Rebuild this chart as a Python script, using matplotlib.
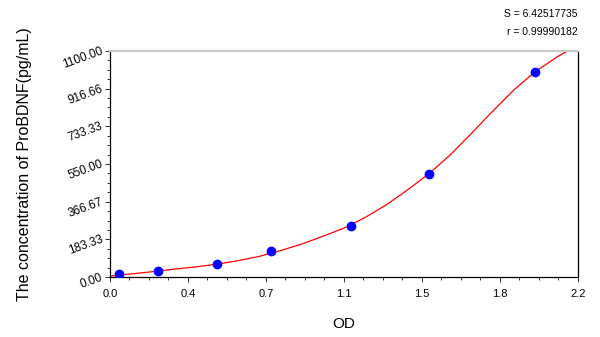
import matplotlib
matplotlib.use("Agg")
from matplotlib import pyplot as plt
from matplotlib.ticker import AutoMinorLocator

# standard points (OD, concentration)
od = [0.042, 0.226, 0.502, 0.755, 1.133, 1.498, 1.998]
conc = [15.6, 31.25, 62.5, 125, 250, 500, 1000]

# fitted curve
curve_x = [0.0, 0.1, 0.2, 0.3, 0.4, 0.5, 0.6, 0.7, 0.8, 0.9, 1.0, 1.1,
           1.2, 1.3, 1.4, 1.5, 1.6, 1.7, 1.8, 1.9, 2.0, 2.1, 2.15]
curve_y = [5, 15, 26, 38, 49, 62, 79, 100, 128, 160, 198, 238,
           290, 352, 425, 503, 595, 700, 808, 912, 1000, 1070, 1100]

x_ticks = [0.0, 2.2 / 6, 2.2 / 3, 1.1, 2.2 * 2 / 3, 2.2 * 5 / 6, 2.2]
x_labels = ["0.0", "0.4", "0.7", "1.1", "1.5", "1.8", "2.2"]
y_ticks = [0, 1100 / 6, 1100 / 3, 550, 1100 * 2 / 3, 1100 * 5 / 6, 1100]
y_labels = ["0.00", "183.33", "366.67", "550.00", "733.33", "916.66", "1100.00"]

s_text = "S = 6.42517735"
r_text = "r = 0.99990182"

plt.rcParams['font.family'] = ['Liberation Sans', 'DejaVu Sans']

fig = plt.figure(figsize=(6, 3.37), dpi=100)
ax = fig.add_axes([0.1833, 0.178, 0.78, 0.6707])

ax.plot(curve_x, curve_y, color='red', lw=0.9, zorder=2)
ax.plot(od, conc, 'o', color='blue', ms=6, zorder=3)

ax.set_xlim(0, 2.2)
ax.set_ylim(0, 1100)
ax.set_xticks(x_ticks)
ax.set_xticklabels(x_labels)
ax.set_yticks(y_ticks)
ax.set_yticklabels(y_labels)
ax.xaxis.set_minor_locator(AutoMinorLocator(4))
ax.yaxis.set_minor_locator(AutoMinorLocator(4))

ax.tick_params(axis='both', which='major', length=3.5, width=0.7,
               labelsize=8, color='#333333', pad=2)
ax.tick_params(axis='both', which='minor', length=2.5, width=0.7,
               color='#333333')
ax.tick_params(axis='x', pad=5)
ax.tick_params(axis='y', labelsize=8.5)
for lab in ax.get_yticklabels():
    lab.set_rotation(20)
    lab.set_rotation_mode('anchor')
    lab.set_ha('right')
    lab.set_va('center')

for side in ['left', 'bottom', 'right']:
    ax.spines[side].set_color('black')
    ax.spines[side].set_linewidth(0.9)
ax.spines['top'].set_color('#c8c8c8')
ax.spines['top'].set_linewidth(1.5)

ax.set_xlabel("OD", fontsize=11, labelpad=13)
ax.set_ylabel("The concentration of ProBDNF(pg/mL)", fontsize=11.5, labelpad=21)

fig.text(0.963, 0.958, s_text, ha='right', va='center', fontsize=7.5)
fig.text(0.963, 0.905, r_text, ha='right', va='center', fontsize=7.5)

fig.savefig("out.png", dpi=100)
